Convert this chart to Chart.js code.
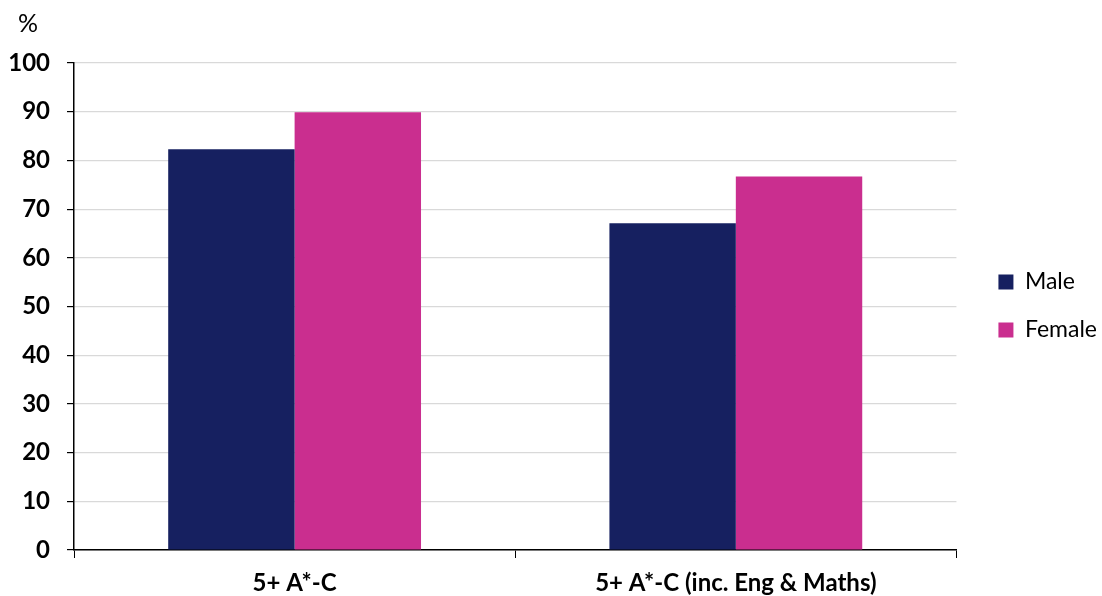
<!DOCTYPE html>
<html>
<head>
<meta charset="utf-8">
<script src="https://cdn.jsdelivr.net/npm/chart.js@4/dist/chart.umd.min.js"></script>
<style>
  html, body { margin: 0; padding: 0; background: #fff; }
  #wrap { width: 1102px; height: 596px; position: relative; }
</style>
</head>
<body>
<div id="wrap"><canvas id="grafico"></canvas></div>
<script>
// datos
const categorias = ['5+ A*-C', '5+ A*-C (inc. Eng & Maths)'];
const male = [82.3, 67.1];
const female = [89.9, 76.7];
const yTicks = [0, 10, 20, 30, 40, 50, 60, 70, 80, 90, 100];

const fuente = 'Lato, "Open Sans", sans-serif';

// ajustes finos: leyenda separada del gráfico y "%" algo a la derecha
const ajustesPosicion = {
    id: 'ajustesPosicion',
    afterLayout(chart) {
        const leg = chart.legend;
        if (leg) {
            const pad = leg.options.labels.padding;
            const dx = (chart.chartArea.right + 42) - (leg.left + pad);
            leg.left += dx;
            leg.right += dx;
            leg.top += 8;
            leg.bottom += 8;
        }
        const tit = chart.titleBlock;
        if (tit) {
            tit.left += 12;
            tit.right += 12;
        }
    }
};

new Chart(document.getElementById('grafico'), {
    type: 'bar',
    data: {
        labels: categorias,
        datasets: [{
            label: 'Male',
            data: male,
            backgroundColor: '#162060',
            categoryPercentage: 0.573,
            barPercentage: 1
        }, {
            label: 'Female',
            data: female,
            backgroundColor: '#CA2E8F',
            categoryPercentage: 0.573,
            barPercentage: 1
        }]
    },
    options: {
        responsive: true,
        maintainAspectRatio: false,
        animation: false,
        layout: { padding: { left: 6, right: 12, top: 0, bottom: 0 } },
        plugins: {
            title: {
                display: true,
                text: '%',
                align: 'start',
                color: '#000',
                font: { family: fuente, size: 25, weight: 'normal' },
                padding: { top: 9, bottom: 24 }
            },
            legend: {
                position: 'right',
                labels: {
                    color: '#000',
                    boxWidth: 15,
                    boxHeight: 15,
                    padding: 25,
                    font: { family: fuente, size: 23 }
                }
            },
            tooltip: { enabled: false }
        },
        scales: {
            x: {
                afterFit: axis => { axis.height = 46; },
                grid: {
                    offset: true,
                    drawOnChartArea: false,
                    tickLength: 8,
                    tickColor: '#000'
                },
                border: { color: '#000', width: 1.5 },
                ticks: {
                    color: '#000',
                    padding: 11,
                    font: { family: fuente, size: 24, weight: 'bold' }
                }
            },
            y: {
                min: 0,
                max: 100,
                afterFit: axis => { axis.width = 68; },
                afterBuildTicks: axis => { axis.ticks = yTicks.map(v => ({ value: v })); },
                grid: {
                    color: '#d9d9d9',
                    lineWidth: 1.2,
                    tickLength: 7,
                    tickColor: '#000'
                },
                border: { color: '#000', width: 1.5 },
                ticks: {
                    color: '#000',
                    padding: 17,
                    font: { family: fuente, size: 24, weight: 'bold' }
                }
            }
        }
    },
    plugins: [ajustesPosicion]
});
</script>
</body>
</html>
